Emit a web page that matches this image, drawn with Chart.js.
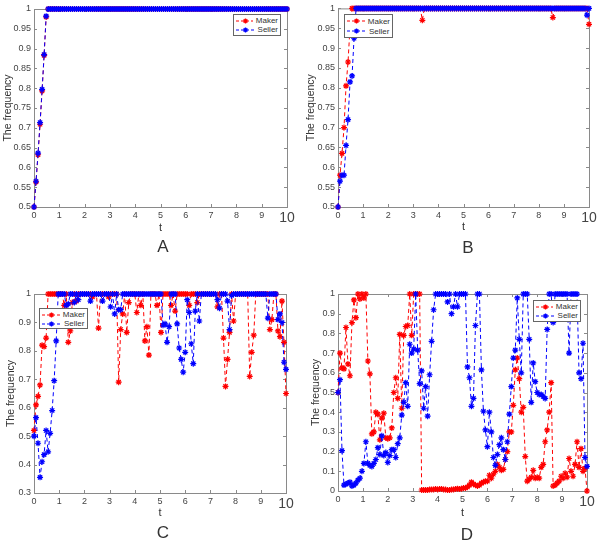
<!DOCTYPE html>
<html>
<head>
<meta charset="utf-8">
<script src="https://cdn.jsdelivr.net/npm/chart.js@4.4.1/dist/chart.umd.min.js"></script>
<style>
  body { margin: 0; background: #fff; width: 600px; height: 544px; position: relative; overflow: hidden;
         font-family: "Liberation Sans", Arial, sans-serif; }
  canvas { position: absolute; }
  .legend { position: absolute; box-sizing: border-box; border: 1px solid #666; background: #fff;
            font-size: 8px; color: #333; padding: 1px 2px; display: flex; flex-direction: column; justify-content: space-around; }
  .legend div { display: flex; align-items: center; height: 9px; }
  .legend svg { margin-right: 3px; }
  .cap { position: absolute; font-size: 17px; color: #333; transform: translate(-50%, -50%); }
</style>
</head>
<body>
<canvas id="cA" width="300" height="240" style="left:0;top:0"></canvas>
<canvas id="cB" width="300" height="240" style="left:300px;top:0"></canvas>
<canvas id="cC" width="300" height="240" style="left:0;top:284px"></canvas>
<canvas id="cD" width="300" height="240" style="left:300px;top:284px"></canvas>
<div class="cap" style="left:163px;top:247px">A</div>
<div class="cap" style="left:468px;top:248px">B</div>
<div class="cap" style="left:163px;top:533px">C</div>
<div class="cap" style="left:467px;top:535px">D</div>
<script>
// time steps (t)
const t = [
  0,0.08,0.16,0.24,0.32,0.4,0.48,0.56,0.64,0.72,
  0.8,0.88,0.96,1.04,1.12,1.2,1.28,1.36,1.44,1.52,
  1.6,1.68,1.76,1.84,1.92,2,2.08,2.16,2.24,2.32,
  2.4,2.48,2.56,2.64,2.72,2.8,2.88,2.96,3.04,3.12,
  3.2,3.28,3.36,3.44,3.52,3.6,3.68,3.76,3.84,3.92,
  4,4.08,4.16,4.24,4.32,4.4,4.48,4.56,4.64,4.72,
  4.8,4.88,4.96,5.04,5.12,5.2,5.28,5.36,5.44,5.52,
  5.6,5.68,5.76,5.84,5.92,6,6.08,6.16,6.24,6.32,
  6.4,6.48,6.56,6.64,6.72,6.8,6.88,6.96,7.04,7.12,
  7.2,7.28,7.36,7.44,7.52,7.6,7.68,7.76,7.84,7.92,
  8,8.08,8.16,8.24,8.32,8.4,8.48,8.56,8.64,8.72,
  8.8,8.88,8.96,9.04,9.12,9.2,9.28,9.36,9.44,9.52,
  9.6,9.68,9.76,9.84,9.92,10
];
const xTicks = [0,1,2,3,4,5,6,7,8,9,10];
const seriesNames = ["Maker", "Seller"];

// panel A
const makerA = [
  0.5,0.563,0.632,0.709,0.793,0.883,0.98,1,1,1,
  1,1,1,1,1,1,1,1,1,1, 1,1,1,1,1,1,1,1,1,1,
  1,1,1,1,1,1,1,1,1,1, 1,1,1,1,1,1,1,1,1,1,
  1,1,1,1,1,1,1,1,1,1, 1,1,1,1,1,1,1,1,1,1,
  1,1,1,1,1,1,1,1,1,1, 1,1,1,1,1,1,1,1,1,1,
  1,1,1,1,1,1,1,1,1,1, 1,1,1,1,1,1,1,1,1,1,
  1,1,1,1,1,1,1,1,1,1, 1,1,1,1,1,1
];
const sellerA = [
  0.5,0.565,0.636,0.713,0.797,0.885,0.982,1,1,1,
  1,1,1,1,1,1,1,1,1,1, 1,1,1,1,1,1,1,1,1,1,
  1,1,1,1,1,1,1,1,1,1, 1,1,1,1,1,1,1,1,1,1,
  1,1,1,1,1,1,1,1,1,1, 1,1,1,1,1,1,1,1,1,1,
  1,1,1,1,1,1,1,1,1,1, 1,1,1,1,1,1,1,1,1,1,
  1,1,1,1,1,1,1,1,1,1, 1,1,1,1,1,1,1,1,1,1,
  1,1,1,1,1,1,1,1,1,1, 1,1,1,1,1,1
];

// panel B
const makerB = [
  0.5,0.58,0.635,0.7,0.805,0.865,0.955,1,1,1,
  1,1,1,1,1,1,1,1,1,1, 1,1,1,1,1,1,1,1,1,1,
  1,1,1,1,1,1,1,1,1,1, 1,1,0.97,1,1,1,1,1,1,1,
  1,1,1,1,1,1,1,1,1,1, 1,1,1,1,1,1,1,1,1,1,
  1,1,1,1,1,1,1,1,1,1, 1,1,1,1,1,1,1,1,1,1,
  1,1,1,1,1,1,1,1,1,1, 1,1,1,1,1,1,1,0.977,1,1,
  1,1,1,1,1,1,1,1,1,1, 1,1,1,1,1,0.96
];
const sellerB = [
  0.5,0.565,0.58,0.58,0.655,0.72,0.815,0.83,0.925,1,
  1,1,1,1,1,1,1,1,1,1, 1,1,1,1,1,1,1,1,1,1,
  1,1,1,1,1,1,1,1,1,1, 1,1,1,1,1,1,1,1,1,1,
  1,1,1,1,1,1,1,1,1,1, 1,1,1,1,1,1,1,1,1,1,
  1,1,1,1,1,1,1,1,1,1, 1,1,1,1,1,1,1,1,1,1,
  1,1,1,1,1,1,1,1,1,1, 1,1,1,1,1,1,1,1,1,1,
  1,1,1,1,1,1,1,1,1,1, 1,1,1,1,0.983,1
];

// panel C
const makerC = [
  0.52,0.61,0.64,0.68,0.82,0.815,0.845,1,1,1,
  1,1,1,1,1,0.96,1,0.83,0.87,0.97,
  1,0.975,1,1,1,1,1,1,1,0.99,
  1,1,0.88,1,1,1,1,0.99,1,1,
  1,1,0.69,0.875,0.93,1,0.865,0.97,1,1,
  1,0.935,1,0.96,1,0.835,0.885,0.785,1,1,
  1,0.96,1,0.865,1,1,1,1,0.96,1,
  0.94,1,1,1,1,1,1,0.96,1,1,
  1,0.97,1,1,1,1,1,1,1,1,
  1,0.955,1,1,0.845,0.675,0.77,0.865,1,0.905,
  1,1,1,1,1,1,1,0.71,0.795,0.855,
  1,1,1,1,1,1,1,0.875,0.91,1,
  1,0.87,0.85,0.975,0.83,0.65
];
const sellerC = [
  0.5,0.565,0.475,0.355,0.41,0.435,0.52,0.445,0.51,0.59,
  0.695,0.835,1,1,1,1,0.96,0.965,1,1,
  0.97,1,0.98,1,1,1,1,1,0.975,1,
  1,1,1,1,0.975,1,1,1,0.955,1,
  0.93,1,0.945,0.945,1,1,1,1,1,1,
  1,1,1,1,1,1,1,1,1,1,
  1,1,1,1,0.89,0.895,0.83,0.885,1,1,
  1,0.895,0.81,0.77,0.725,0.795,0.98,0.935,0.825,0.755,
  0.94,1,0.905,1,1,1,1,1,1,1,
  1,0.98,0.95,1,1,1,0.975,0.875,0.995,1,
  1,1,1,1,1,1,1,1,1,1,
  1,1,1,1,1,1,0.915,1,1,1,
  1,0.91,0.93,0.9,0.76,0.735
];

// panel D
const makerD = [
  0.5,0.7,0.625,0.62,0.83,0.645,0.585,0.855,0.97,0.88,
  1,0.975,1,0.98,1,0.66,0.595,0.29,0.3,0.4,
  0.39,0.26,0.37,0.395,0.27,0.265,0.27,0.32,0.5,0.575,
  0.47,0.795,0.42,0.79,0.835,0.84,1,0.79,1,1,
  1,1,0.005,0.005,0.005,0.005,0.008,0.008,0.008,0.01,
  0.008,0.01,0.01,0.008,0.008,0.005,0.005,0.008,0.008,0.01,
  0.012,0.01,0.012,0.015,0.015,0.02,0.03,0.045,0.035,0.03,
  0.025,0.03,0.04,0.045,0.05,0.05,0.08,0.065,0.085,0.1,
  0.135,0.12,0.105,0.11,0.16,0.2,0.3,0.3,0.435,0.615,
  0.675,0.57,0.4,0.425,0.175,0.05,0.06,0.07,0.105,0.065,
  0.07,0.065,0.12,0.135,0.25,0.31,0.4,0.55,0.025,0.03,
  0.04,0.05,0.075,0.065,0.09,0.07,0.165,0.1,0.075,0.135,
  0.25,0.12,0.215,0.1,0.115,0
];
const sellerD = [
  0.5,0.565,0.205,0.03,0.035,0.04,0.045,0.025,0.03,0.04,
  0.055,0.065,0.1,0.14,0.25,0.14,0.13,0.125,0.14,0.16,
  0.22,0.185,0.28,0.18,0.195,0.145,0.18,0.21,0.21,0.17,
  0.24,0.27,0.385,0.45,0.55,0.43,0.745,0.7,0.72,1,
  0.715,0.545,0.61,0.42,0.53,0.38,0.59,0.76,0.92,1,
  1,1,1,1,1,0.96,1,0.9,0.935,1,
  0.935,1,1,1,1,0.63,0.575,0.43,0.47,0.84,
  1,1,0.615,0.405,0.31,0.225,0.4,0.3,0.17,0.13,
  0.185,0.235,0.27,0.21,0.16,0.25,0.39,0.53,0.675,0.715,
  0.98,0.77,0.6,1,1,1,0.77,0.45,0.65,0.555,
  0.5,0.49,0.49,0.48,0.47,0.82,1,1,0.855,1,
  1,1,1,1,1,1,0.7,1,1,1,
  1,0.6,0.57,0.75,0.17,0.125
];

const RED = "#ff0000";
const BLUE = "#0000ff";
const AXIS = "#8a8a8a";
const FONT = "'Liberation Sans', Arial, sans-serif";

// box and inward ticks like matlab
const framePlugin = {
  id: "frame",
  beforeDatasetsDraw(chart) {
    const { ctx, chartArea: a, scales } = chart;
    ctx.save();
    ctx.strokeStyle = AXIS;
    ctx.lineWidth = 1;
    ctx.strokeRect(a.left + 0.5, a.top + 0.5, a.right - a.left, a.bottom - a.top);
    ctx.beginPath();
    scales.x.ticks.forEach(tk => {
      const px = Math.round(scales.x.getPixelForValue(tk.value)) + 0.5;
      ctx.moveTo(px, a.bottom); ctx.lineTo(px, a.bottom - 3);
      ctx.moveTo(px, a.top); ctx.lineTo(px, a.top + 3);
    });
    scales.y.ticks.forEach(tk => {
      const py = Math.round(scales.y.getPixelForValue(tk.value)) + 0.5;
      ctx.moveTo(a.left, py); ctx.lineTo(a.left + 3, py);
      ctx.moveTo(a.right, py); ctx.lineTo(a.right - 3, py);
    });
    ctx.stroke();
    ctx.restore();
  }
};

function series(label, values, color, order) {
  return {
    label: label,
    data: t.map((x, i) => ({ x: x, y: values[i] })),
    borderColor: color,
    backgroundColor: color,
    borderWidth: 1,
    borderDash: [4, 3],
    pointStyle: "star",
    pointRadius: 3,
    pointBorderWidth: 1.2,
    pointBorderColor: color,
    tension: 0,
    clip: false,
    order: order
  };
}

function makePanel(p) {
  new Chart(document.getElementById(p.id), {
    type: "line",
    data: {
      datasets: [
        series(seriesNames[0], p.maker, RED, 1),
        series(seriesNames[1], p.seller, BLUE, 0)
      ]
    },
    options: {
      responsive: false,
      animation: false,
      layout: { padding: { left: 0, right: p.padR, top: p.padT, bottom: 0 } },
      plugins: { legend: { display: false }, tooltip: { enabled: false } },
      scales: {
        x: {
          type: "linear", min: 0, max: 10,
          afterBuildTicks: s => { s.ticks = xTicks.map(v => ({ value: v })); },
          afterFit: s => { s.height = p.xH; },
          grid: { display: false, drawTicks: false },
          border: { display: false },
          ticks: {
            padding: 3, color: "#444",
            font: c => c.tick && c.tick.value === 10 ? { family: FONT, size: 14 } : { family: FONT, size: 9 }
          },
          title: { display: true, text: "t", color: "#333", font: { family: FONT, size: 11 },
                   padding: { top: 0, bottom: p.tPad } }
        },
        y: {
          min: p.yMin, max: p.yMax,
          ticks: {
            stepSize: p.yStep, padding: 3, color: "#444", font: { family: FONT, size: 9 },
            callback: v => String(Number(v.toFixed(2)))
          },
          afterFit: s => { s.width = p.yW; },
          grid: { display: false, drawTicks: false },
          border: { display: false },
          title: { display: true, text: "The frequency", color: "#333", font: { family: FONT, size: 10.5 },
                   padding: { top: p.yPad, bottom: 0 } }
        }
      }
    },
    plugins: [framePlugin]
  });
}

function makeLegend(pos) {
  const box = document.createElement("div");
  box.className = "legend";
  box.style.left = pos.left + "px";
  box.style.top = pos.top + "px";
  box.style.width = pos.w + "px";
  box.style.height = pos.h + "px";
  [[seriesNames[0], RED], [seriesNames[1], BLUE]].forEach(([name, c]) => {
    const row = document.createElement("div");
    row.innerHTML =
      '<svg width="19" height="8"><line x1="0" y1="4" x2="19" y2="4" stroke="' + c + '" stroke-width="1" stroke-dasharray="3,2"/>' +
      '<path d="M9.5 1.5v5M7 4h5M7.7 2.2l3.6 3.6M11.3 2.2l-3.6 3.6" stroke="' + c + '" stroke-width="1.2"/></svg>' +
      "<span>" + name + "</span>";
    box.appendChild(row);
  });
  document.body.appendChild(box);
}

const panels = [
  { id: "cA", maker: makerA, seller: sellerA, yMin: 0.5, yMax: 1, yStep: 0.05,
    yW: 34, padR: 13, padT: 9, xH: 33, tPad: 5, yPad: 2,
    legend: { left: 233, top: 14, w: 48, h: 22 } },
  { id: "cB", maker: makerB, seller: sellerB, yMin: 0.5, yMax: 1, yStep: 0.05,
    yW: 38, padR: 11, padT: 8, xH: 33, tPad: 6, yPad: 5,
    legend: { left: 344, top: 14, w: 49, h: 24 } },
  { id: "cC", maker: makerC, seller: sellerC, yMin: 0.3, yMax: 1, yStep: 0.1,
    yW: 34, padR: 14, padT: 10, xH: 31, tPad: 4, yPad: 5,
    legend: { left: 39, top: 308, w: 49, h: 21 } },
  { id: "cD", maker: makerD, seller: sellerD, yMin: 0, yMax: 1, yStep: 0.1,
    yW: 38, padR: 13, padT: 10, xH: 33, tPad: 4, yPad: 10,
    legend: { left: 533, top: 300, w: 48, h: 22 } }
];

panels.forEach(p => { makePanel(p); makeLegend(p.legend); });
</script>
</body>
</html>
